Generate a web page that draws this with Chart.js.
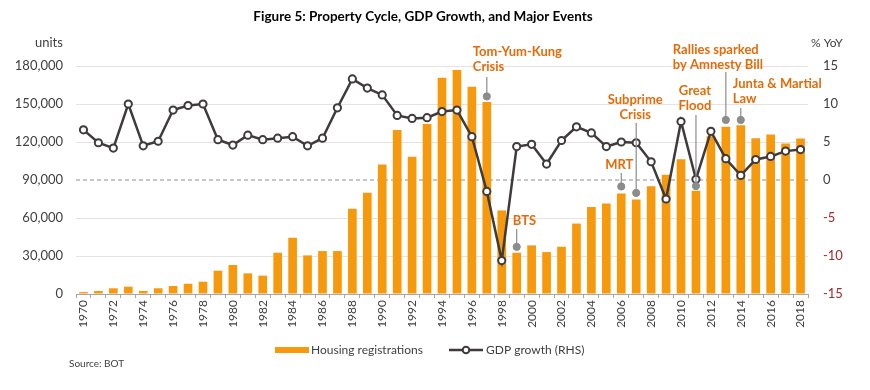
<!DOCTYPE html>
<html lang="en">
<head>
    <meta charset="UTF-8">
    <title>Property Cycle, GDP Growth, and Major Events</title>
    <script src="https://cdn.jsdelivr.net/npm/chart.js"></script>
    <style>
        html, body { margin: 0; padding: 0; background: #fff; }
        #wrap { width: 870px; height: 390px; }
    </style>
</head>
<body>
    <div id="wrap"><canvas id="cycleChart" width="870" height="390"></canvas></div>

    <script>
// years 1970..2018
const years = ['1970','1971','1972','1973','1974','1975','1976','1977','1978','1979',
    '1980','1981','1982','1983','1984','1985','1986','1987','1988','1989',
    '1990','1991','1992','1993','1994','1995','1996','1997','1998','1999',
    '2000','2001','2002','2003','2004','2005','2006','2007','2008','2009',
    '2010','2011','2012','2013','2014','2015','2016','2017','2018'];

const housingRegistrations = [1500, 2400, 4500, 5800, 2400, 4500, 6300, 8100, 9700, 18400,
    22900, 16300, 14500, 32600, 44400, 30500, 33900, 33900, 67300, 79900,
    102200, 129500, 108300, 134300, 170800, 176800, 163700, 151600, 66000, 32600,
    38400, 33100, 37300, 55600, 68600, 71500, 79400, 74700, 85000, 94200,
    106400, 81500, 124600, 132000, 133300, 123000, 125900, 118800, 122700];

const gdpGrowth = [6.6, 4.9, 4.2, 10.0, 4.5, 5.1, 9.2, 9.8, 10.0, 5.3,
    4.6, 5.9, 5.3, 5.5, 5.7, 4.5, 5.5, 9.5, 13.3, 12.1,
    11.2, 8.5, 8.1, 8.2, 9.0, 9.2, 5.7, -1.5, -10.6, 4.4,
    4.7, 2.1, 5.2, 7.0, 6.2, 4.4, 5.0, 4.9, 2.4, -2.5,
    7.7, 0.1, 6.4, 2.8, 0.6, 2.7, 3.1, 3.8, 4.0];

const leftTicks = [0, 30000, 60000, 90000, 120000, 150000, 180000];
const rightTicks = [-15, -10, -5, 0, 5, 10, 15];

// major events: year, text lines, marker level (RHS units)
const eventYears = ['1997', '1999', '2006', '2007', '2011', '2013', '2014'];
const eventTexts = [['Tom-Yum-Kung', 'Crisis'], ['BTS'], ['MRT'], ['Subprime', 'Crisis'],
    ['Great', 'Flood'], ['Rallies sparked', 'by Amnesty Bill'], ['Junta & Martial', 'Law']];
const eventLevels = [11.0, -8.8, -0.85, -1.7, -0.8, 7.9, 7.9];

const FONT = 'Lato, "Open Sans", sans-serif';
const ORANGE = '#F7990D';
const LINE = '#3F3B3B';

// where each event caption sits relative to its marker
const eventLayout = [
    { align: 'left',   dx: -14, y: 52,  lineTop: 77 },
    { align: 'left',   dx: -4,  y: 221, lineTop: 229 },
    { align: 'center', dx: -2,  y: 165, lineTop: 173 },
    { align: 'center', dx: -1,  y: 100, lineTop: 123 },
    { align: 'center', dx: -1,  y: 91,  lineTop: 115 },
    { align: 'left',   dx: -53, y: 50,  lineTop: 72 },
    { align: 'left',   dx: -8,  y: 84,  lineTop: 108 }
];

const extrasPlugin = {
    id: 'extras',
    beforeDatasetsDraw(chart) {
        // dashed zero line of the GDP axis
        const ctx = chart.ctx, area = chart.chartArea;
        const y0 = chart.scales.y1.getPixelForValue(0);
        ctx.save();
        ctx.strokeStyle = '#8E8E8E';
        ctx.lineWidth = 1.2;
        ctx.setLineDash([4, 3]);
        ctx.beginPath();
        ctx.moveTo(area.left, y0);
        ctx.lineTo(area.right, y0);
        ctx.stroke();
        ctx.restore();
    },
    afterDraw(chart) {
        const ctx = chart.ctx;
        const x = chart.scales.x;
        const y1 = chart.scales.y1;
        ctx.save();

        // title
        ctx.fillStyle = '#000';
        ctx.font = 'bold 13.5px ' + FONT;
        ctx.textAlign = 'center';
        ctx.textBaseline = 'middle';
        ctx.fillText('Figure 5: Property Cycle, GDP Growth, and Major Events', 423, 17);

        // axis units
        ctx.fillStyle = '#404040';
        ctx.font = '13px ' + FONT;
        ctx.textAlign = 'left';
        ctx.fillText('units', 35, 43);
        ctx.font = '12px ' + FONT;
        ctx.fillText('% YoY', 811, 43);

        // event captions and leader lines
        eventYears.forEach((yr, i) => {
            const lay = eventLayout[i];
            const px = x.getPixelForValue(years.indexOf(yr));
            const py = y1.getPixelForValue(eventLevels[i]);
            ctx.strokeStyle = '#8C8C8C';
            ctx.lineWidth = 1.2;
            ctx.beginPath();
            ctx.moveTo(px, lay.lineTop);
            ctx.lineTo(px, py);
            ctx.stroke();
            ctx.fillStyle = '#E36C0A';
            ctx.font = 'bold 13px ' + FONT;
            ctx.textAlign = lay.align;
            eventTexts[i].forEach((t, j) => ctx.fillText(t, px + lay.dx, lay.y + j * 15));
        });

        // legend
        const ly = 350;
        ctx.fillStyle = ORANGE;
        ctx.fillRect(275, ly - 3, 34, 6);
        ctx.fillStyle = '#404040';
        ctx.font = '12px ' + FONT;
        ctx.textAlign = 'left';
        ctx.fillText(chart.data.datasets[0].label, 311, ly);
        ctx.strokeStyle = LINE;
        ctx.lineWidth = 2.5;
        ctx.beginPath();
        ctx.moveTo(449, ly);
        ctx.lineTo(483, ly);
        ctx.stroke();
        ctx.beginPath();
        ctx.arc(466, ly, 3.3, 0, Math.PI * 2);
        ctx.fillStyle = '#fff';
        ctx.fill();
        ctx.lineWidth = 2;
        ctx.stroke();
        ctx.fillStyle = '#404040';
        ctx.fillText(chart.data.datasets[1].label, 486, ly);

        // source
        ctx.font = '10px ' + FONT;
        ctx.fillStyle = '#404040';
        ctx.fillText('Source: BOT', 69, 364);
        ctx.restore();
    }
};

const ctx = document.getElementById('cycleChart').getContext('2d');

new Chart(ctx, {
    data: {
        labels: years,
        datasets: [
            {
                type: 'bar',
                label: 'Housing registrations',
                data: housingRegistrations,
                backgroundColor: ORANGE,
                barPercentage: 0.58,
                categoryPercentage: 1,
                yAxisID: 'y',
                order: 3
            },
            {
                type: 'line',
                label: 'GDP growth (RHS)',
                data: gdpGrowth,
                borderColor: LINE,
                borderWidth: 2.5,
                pointRadius: 3.6,
                pointBorderWidth: 2,
                pointBackgroundColor: '#fff',
                pointBorderColor: LINE,
                tension: 0,
                yAxisID: 'y1',
                order: 2
            },
            {
                type: 'line',
                label: 'Events',
                data: eventYears.map((yr, i) => ({ x: yr, y: eventLevels[i] })),
                showLine: false,
                pointRadius: 3.6,
                pointBackgroundColor: '#8C8C8C',
                pointBorderColor: '#8C8C8C',
                yAxisID: 'y1',
                order: 1
            }
        ]
    },
    options: {
        responsive: false,
        animation: false,
        layout: { padding: { top: 66, left: 0, right: 0, bottom: 0 } },
        plugins: {
            legend: { display: false },
            tooltip: { enabled: false },
            title: { display: false }
        },
        scales: {
            x: {
                grid: {
                    offset: true,
                    drawOnChartArea: false,
                    color: '#A6A6A6',
                    tickLength: 4
                },
                border: { color: '#A6A6A6' },
                ticks: {
                    autoSkip: false,
                    maxRotation: 90,
                    minRotation: 90,
                    padding: 2,
                    color: '#404040',
                    font: { family: FONT, size: 12 },
                    callback: (v, i) => (i % 2 === 0 ? years[i] : '')
                },
                afterFit: s => { s.height = 96; }
            },
            y: {
                position: 'left',
                min: 0,
                max: 180000,
                afterBuildTicks: s => { s.ticks = leftTicks.map(v => ({ value: v })); },
                grid: {
                    drawTicks: false,
                    color: c => (c.tick.value === 90000 || c.tick.value === 0 ? 'rgba(0,0,0,0)' : '#E3E3E3')
                },
                border: { display: false },
                ticks: {
                    padding: 13,
                    color: '#404040',
                    font: { family: FONT, size: 13 },
                    callback: v => v.toLocaleString('en-US')
                },
                afterFit: s => { s.width = 76; }
            },
            y1: {
                position: 'right',
                min: -15,
                max: 15,
                afterBuildTicks: s => { s.ticks = rightTicks.map(v => ({ value: v })); },
                grid: { drawOnChartArea: false, drawTicks: false },
                border: { display: false },
                ticks: {
                    padding: 15,
                    color: c => (c.tick.value < 0 ? '#A3292C' : '#404040'),
                    font: { family: FONT, size: 13 }
                },
                afterFit: s => { s.width = 62; }
            }
        }
    },
    plugins: [extrasPlugin]
});
    </script>
</body>
</html>
